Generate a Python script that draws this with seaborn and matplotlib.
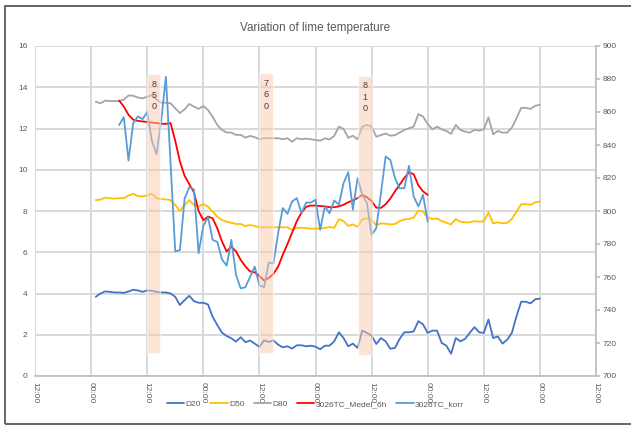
import seaborn as sns
import matplotlib.pyplot as plt
from matplotlib.patches import Rectangle

# timmar räknat från första 12:00 på x-axeln
hours_d = list(range(13, 109))
hours_tc = list(range(18, 85))

d20 = [3.84, 4.0, 4.1, 4.08, 4.05, 4.05, 4.03, 4.1, 4.18, 4.15, 4.08, 4.15,
       4.13, 4.08, 4.05, 4.05, 4.0, 3.84, 3.44, 3.68, 3.89, 3.63, 3.55, 3.55,
       3.47, 2.87, 2.47, 2.1, 1.94, 1.83, 1.67, 1.88, 1.64, 1.72, 1.57, 1.41,
       1.73, 1.65, 1.73, 1.52, 1.39, 1.44, 1.33, 1.49, 1.49, 1.44, 1.47, 1.42,
       1.3, 1.47, 1.47, 1.68, 2.12, 1.84, 1.44, 1.57, 1.36, 2.2, 2.09, 1.96,
       1.55, 1.84, 1.68, 1.32, 1.36, 1.8, 2.12, 2.12, 2.16, 2.66, 2.5, 2.09,
       2.2, 2.2, 1.6, 1.47, 1.08, 1.84, 1.68, 1.8, 2.09, 2.37, 2.12, 2.09,
       2.74, 1.84, 1.92, 1.57, 1.76, 2.09, 2.9, 3.6, 3.6, 3.52, 3.72, 3.75]

d50 = [8.53, 8.55, 8.65, 8.62, 8.6, 8.62, 8.62, 8.75, 8.83, 8.73, 8.7, 8.76,
       8.83, 8.62, 8.58, 8.56, 8.53, 8.29, 8.0, 8.29, 8.53, 8.29, 8.21, 8.34,
       8.21, 7.97, 7.72, 7.56, 7.48, 7.43, 7.37, 7.37, 7.27, 7.32, 7.27, 7.21,
       7.21, 7.21, 7.21, 7.21, 7.21, 7.21, 7.08, 7.19, 7.19, 7.17, 7.14, 7.15,
       7.15, 7.18, 7.23, 7.18, 7.6, 7.51, 7.28, 7.35, 7.23, 7.6, 7.64, 7.56,
       7.31, 7.4, 7.38, 7.35, 7.37, 7.51, 7.59, 7.61, 7.68, 8.02, 7.97, 7.68,
       7.61, 7.64, 7.51, 7.43, 7.35, 7.61, 7.48, 7.45, 7.45, 7.51, 7.48, 7.5,
       7.92, 7.4, 7.45, 7.4, 7.43, 7.61, 7.97, 8.33, 8.33, 8.3, 8.42, 8.46]

d80 = [13.3, 13.22, 13.35, 13.33, 13.33, 13.33, 13.4, 13.6, 13.59, 13.5, 13.46, 13.54,
       13.62, 13.41, 13.25, 13.25, 13.22, 12.98, 12.75, 12.93, 13.19, 13.06, 12.95, 13.09,
       12.9, 12.57, 12.17, 11.93, 11.81, 11.8, 11.69, 11.69, 11.56, 11.64, 11.58, 11.48,
       11.53, 11.53, 11.53, 11.53, 11.48, 11.53, 11.36, 11.53, 11.48, 11.51, 11.48, 11.44,
       11.41, 11.52, 11.47, 11.64, 12.09, 11.98, 11.55, 11.65, 11.47, 12.09, 12.17, 12.09,
       11.6, 11.68, 11.76, 11.65, 11.68, 11.8, 11.93, 12.01, 12.09, 12.7, 12.58, 12.22,
       11.96, 12.09, 11.96, 11.88, 11.74, 12.17, 11.93, 11.85, 11.8, 11.93, 11.9, 11.96,
       12.54, 11.72, 11.88, 11.8, 11.8, 12.04, 12.5, 13.0, 13.0, 12.95, 13.1, 13.15]

tc_medel = [866.9, 863.3, 858.3, 855.3, 854.6, 854.3, 853.9, 853.6, 853.3, 852.9, 852.8, 853.3,
            842.5, 830.0, 821.3, 816.3, 811.3, 800.0, 794.4, 796.6, 795.6, 789.4, 781.5, 775.5,
            778.5, 775.5, 770.4, 766.4, 763.4, 762.8, 760.6, 757.9, 759.4, 761.9, 766.3, 773.4,
            780.0, 786.9, 793.8, 799.0, 802.5, 803.3, 803.3, 803.0, 802.8, 802.3, 802.3, 802.8,
            803.8, 805.3, 806.5, 807.8, 809.8, 808.3, 806.0, 802.0, 801.9, 804.1, 807.5, 811.9,
            816.0, 820.0, 823.5, 822.3, 815.6, 811.9, 809.8]

tc_korr = [852.1, 856.9, 830.6, 853.1, 857.3, 855.6, 860.0, 842.5, 834.4, 855.0, 881.3, 828.8,
           775.6, 776.3, 807.5, 814.4, 813.1, 774.4, 791.0, 796.3, 782.5, 781.3, 770.6, 766.9,
           782.5, 761.3, 753.1, 753.8, 760.0, 766.3, 755.0, 753.8, 768.8, 768.3, 786.5, 801.8,
           798.3, 805.8, 807.8, 798.6, 805.1, 805.1, 806.8, 788.6, 802.8, 798.6, 806.4, 803.8,
           816.9, 823.5, 800.8, 819.9, 809.8, 804.8, 785.5, 789.6, 810.8, 833.0, 831.0, 819.9,
           813.8, 813.8, 827.4, 808.8, 802.8, 809.8, 793.6]

# markerade perioder (temperaturnivå)
bar_start = [24.0, 48.0, 69.1]
bar_width = [2.8, 2.9, 2.9]
bar_bottom = [714, 714, 713]
bar_top = [883, 883.5, 882]
bar_text = ["850", "760", "810"]

tick_hours = list(range(0, 121, 12))
tick_labels = ["12:00", "00:00"] * 5 + ["12:00"]

sns.set_theme(style="white")
plt.rcParams['font.family'] = ['Liberation Sans', 'DejaVu Sans']

txt = '#595959'
fig = plt.figure(figsize=(6.31, 4.26), dpi=100)
ax = fig.add_axes([35/631, 50/426, 561/631, 330/426])

lw = 1.3
sns.lineplot(x=hours_d, y=d20, ax=ax, color='#4472C4', lw=lw, label='D20')
sns.lineplot(x=hours_d, y=d50, ax=ax, color='#FFC000', lw=lw, label='D50')
sns.lineplot(x=hours_d, y=d80, ax=ax, color='#A5A5A5', lw=lw, label='D80')

ax.set_xlim(0, 120)
ax.set_ylim(0, 16)
ax.set_xticks(tick_hours)
ax.set_xticklabels(tick_labels, rotation=270)
ax.set_yticks(range(0, 17, 2))
ax.set_xlabel('')
ax.set_ylabel('')
ax.grid(True, color='#D9D9D9', lw=1.4)
ax.set_axisbelow(True)
ax.tick_params(axis='y', length=0, labelsize=6, colors=txt, pad=5.5)
ax.tick_params(axis='x', length=0, labelsize=6, colors=txt, pad=4)
for s in ['top', 'left', 'right']:
    ax.spines[s].set_visible(False)
ax.spines['bottom'].set_color('#BFBFBF')

ax2 = ax.twinx()
sns.lineplot(x=hours_tc, y=tc_medel, ax=ax2, color='#FF0000', lw=lw, label='3026TC_Medel_6h')
sns.lineplot(x=hours_tc, y=tc_korr, ax=ax2, color='#5B9BD5', lw=lw, label='3026TC_korr')
ax2.set_ylim(700, 900)
ax2.set_yticks(range(700, 901, 20))
ax2.set_ylabel('')
ax2.grid(False)
ax2.tick_params(axis='y', direction='out', length=3, color='#BFBFBF', labelsize=6,
                labelcolor=txt, pad=2)
for s in ['top', 'left', 'bottom']:
    ax2.spines[s].set_visible(False)
ax2.spines['right'].set_color('#BFBFBF')

heights = [t - b for t, b in zip(bar_top, bar_bottom)]
ax2.bar(bar_start, heights, bottom=bar_bottom, width=bar_width, align='edge',
        color='#F8CBAD', alpha=0.5, zorder=5)
for x, w, t, s in zip(bar_start, bar_width, bar_top, bar_text):
    ax2.text(x + w / 2, t - 13, '\n'.join(s), ha='center', va='center', fontsize=6.5,
             linespacing=1.35, color='#404040', zorder=6)

h1, l1 = ax.get_legend_handles_labels()
h2, l2 = ax2.get_legend_handles_labels()
ax.get_legend().remove()
ax2.get_legend().remove()
fig.legend(h1 + h2, l1 + l2, loc='center', bbox_to_anchor=(0.5, 1 - 404/426), ncol=5,
           frameon=False, fontsize=6, handlelength=2.1, handletextpad=0.15,
           columnspacing=1.1, labelcolor=txt)

fig.text(0.5, 1 - 28/426, 'Variation of lime temperature', ha='center', va='center',
         fontsize=8.5, color=txt)

fig.patches.append(Rectangle((5/631, 1 - 424/426), 1.0, 418/426, transform=fig.transFigure,
                             fill=False, edgecolor='#595959', lw=1.3))

fig.savefig('out.png', dpi=100)
